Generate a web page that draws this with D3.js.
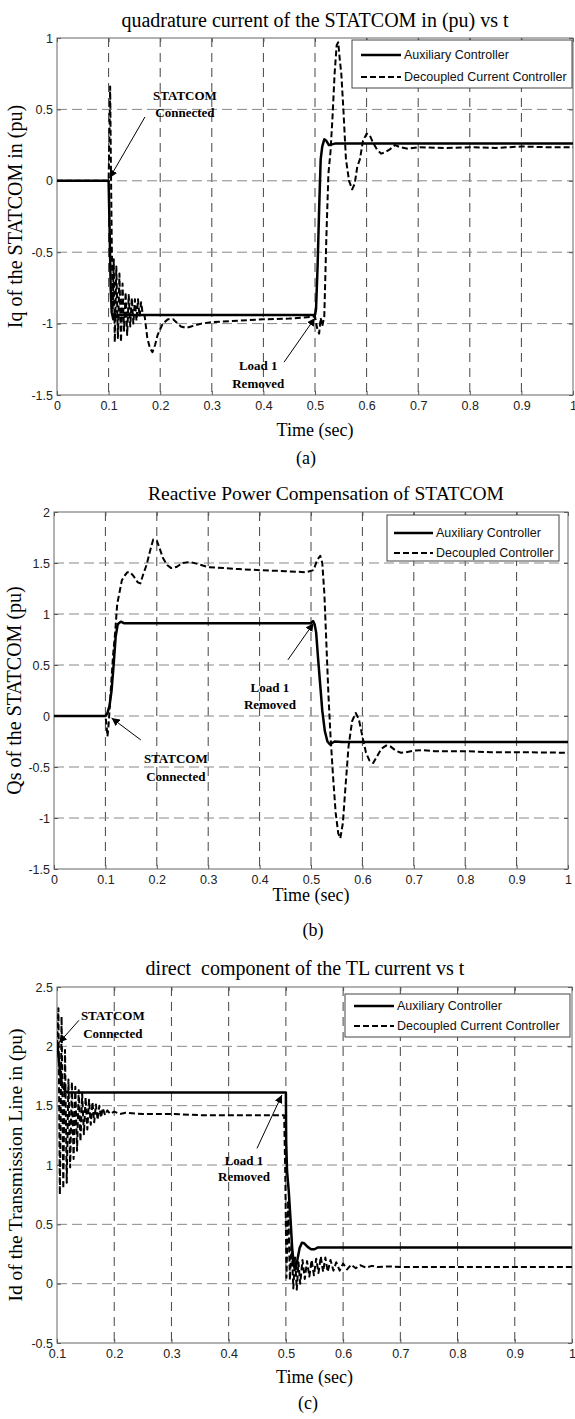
<!DOCTYPE html>
<html>
<head>
<meta charset="utf-8">
<script src="https://cdn.jsdelivr.net/npm/d3@7"></script>
<style>
  body { margin: 0; background: #fff; }
  svg { display: block; }
  .tick text { font-family: "Liberation Sans", Arial, sans-serif; font-size: 12.5px; fill: #222; }
</style>
</head>
<body>
<svg id="fig" width="575" height="1419"></svg>
<script>
// ---- tick values ----
const xTicks01 = [0, 0.1, 0.2, 0.3, 0.4, 0.5, 0.6, 0.7, 0.8, 0.9, 1];
const xTicksC = [0.1, 0.2, 0.3, 0.4, 0.5, 0.6, 0.7, 0.8, 0.9, 1];
const yTicksA = [-1.5, -1, -0.5, 0, 0.5, 1];
const yTicksB = [-1.5, -1, -0.5, 0, 0.5, 1, 1.5, 2];
const yTicksC = [-0.5, 0, 0.5, 1, 1.5, 2, 2.5];

// ---- (a) Iq of the STATCOM, [t, pu] ----
const iqAux = [[0,0],[0.1,0],[0.102,-0.35],[0.104,-0.75],[0.106,-0.92],[0.109,-0.97],[0.112,-0.93],[0.116,-0.955],[0.12,-0.94],
  [0.5,-0.94],[0.502,-0.9],[0.505,-0.6],[0.508,-0.2],[0.511,0.15],[0.514,0.24],[0.518,0.29],[0.522,0.28],[0.527,0.25],
  [0.533,0.255],[0.54,0.262],[1,0.262]];
const iqDec = [[0,0],[0.1,0],[0.1015,0.3],[0.103,0.66],[0.1045,0.1],[0.106,-0.4],[0.108,-0.9],[0.11,-0.55],[0.112,-1.13],
  [0.115,-0.6],[0.118,-1.1],[0.121,-0.65],[0.124,-1.13],[0.127,-0.72],[0.13,-1.05],[0.133,-0.78],[0.136,-1.08],[0.139,-0.8],
  [0.142,-1.02],[0.145,-0.82],[0.148,-1.0],[0.151,-0.83],[0.154,-0.98],[0.157,-0.83],[0.16,-0.95],[0.163,-0.85],[0.166,-0.93],
  [0.17,-0.95],[0.175,-1.1],[0.18,-1.17],[0.185,-1.2],[0.19,-1.15],[0.195,-1.08],[0.205,-1.0],[0.215,-0.97],[0.225,-0.97],
  [0.24,-1.02],[0.25,-1.03],[0.26,-1.02],[0.28,-1.0],[0.3,-0.99],[0.35,-0.98],[0.4,-0.97],[0.45,-0.965],[0.5,-0.95],
  [0.504,-1.03],[0.508,-1.07],[0.511,-0.96],[0.514,-1.02],[0.518,-0.95],[0.522,-0.4],[0.526,0.05],[0.53,0.2],[0.534,0.45],
  [0.538,0.75],[0.542,0.95],[0.545,0.97],[0.548,0.85],[0.551,0.75],[0.555,0.5],[0.56,0.15],[0.566,0.0],[0.572,-0.06],
  [0.577,-0.02],[0.582,0.1],[0.587,0.15],[0.593,0.28],[0.6,0.33],[0.606,0.32],[0.612,0.27],[0.62,0.22],[0.628,0.19],
  [0.636,0.2],[0.645,0.22],[0.655,0.25],[0.665,0.235],[0.68,0.225],[0.7,0.235],[0.75,0.23],[0.8,0.235],[0.85,0.23],
  [0.9,0.24],[0.95,0.235],[1,0.235]];

// ---- (b) Qs of the STATCOM ----
const qsAux = [[0,0],[0.1,0],[0.104,0.03],[0.108,0.1],[0.112,0.25],[0.116,0.5],[0.12,0.78],[0.124,0.9],[0.13,0.925],[0.136,0.91],
  [0.5,0.91],[0.504,0.93],[0.507,0.9],[0.51,0.82],[0.514,0.55],[0.518,0.3],[0.522,0.05],[0.527,-0.15],[0.532,-0.25],
  [0.537,-0.28],[0.541,-0.265],[0.546,-0.25],[0.56,-0.255],[1,-0.255]];
const qsDec = [[0,0],[0.1,0],[0.102,-0.08],[0.104,-0.2],[0.106,-0.1],[0.108,0.05],[0.111,0.3],[0.115,0.6],[0.119,0.82],
  [0.123,1.1],[0.127,1.2],[0.132,1.33],[0.138,1.38],[0.143,1.41],[0.148,1.41],[0.155,1.37],[0.163,1.31],[0.168,1.3],
  [0.173,1.38],[0.18,1.48],[0.187,1.62],[0.193,1.73],[0.2,1.72],[0.205,1.65],[0.212,1.55],[0.22,1.48],[0.228,1.45],
  [0.238,1.46],[0.25,1.5],[0.265,1.51],[0.28,1.49],[0.3,1.46],[0.33,1.45],[0.36,1.44],[0.4,1.43],[0.45,1.42],[0.49,1.41],
  [0.505,1.43],[0.512,1.53],[0.518,1.57],[0.522,1.5],[0.526,1.2],[0.53,0.7],[0.534,0.2],[0.538,-0.2],[0.543,-0.6],
  [0.548,-0.95],[0.553,-1.15],[0.557,-1.2],[0.562,-1.05],[0.567,-0.7],[0.573,-0.3],[0.58,-0.05],[0.587,0.03],[0.593,-0.03],
  [0.6,-0.2],[0.607,-0.36],[0.614,-0.44],[0.621,-0.46],[0.628,-0.4],[0.637,-0.32],[0.646,-0.29],[0.655,-0.3],[0.665,-0.34],
  [0.675,-0.36],[0.685,-0.355],[0.7,-0.34],[0.715,-0.335],[0.74,-0.345],[0.8,-0.345],[0.85,-0.355],[0.9,-0.355],[1,-0.36]];

// ---- (c) Id of the transmission line ----
const idAux = [[0.1,2.05],[0.103,1.9],[0.106,1.75],[0.11,1.66],[0.115,1.62],[0.12,1.61],[0.5,1.61],[0.5005,1.2],[0.502,0.95],
  [0.505,0.78],[0.508,0.55],[0.511,0.3],[0.514,0.15],[0.517,0.12],[0.52,0.2],[0.524,0.3],[0.528,0.345],[0.532,0.34],
  [0.538,0.31],[0.544,0.29],[0.55,0.29],[0.556,0.305],[1,0.305]];
const idDec = [[0.1,2.0],[0.1025,2.32],[0.105,0.75],[0.108,2.25],[0.111,0.8],[0.114,1.97],[0.117,0.85],[0.12,1.72],[0.123,0.98],
  [0.126,1.7],[0.129,1.05],[0.132,1.66],[0.135,1.12],[0.138,1.63],[0.141,1.2],[0.144,1.6],[0.147,1.26],[0.15,1.57],
  [0.153,1.3],[0.156,1.55],[0.159,1.34],[0.162,1.53],[0.165,1.36],[0.168,1.51],[0.171,1.38],[0.174,1.5],[0.177,1.4],
  [0.18,1.48],[0.184,1.42],[0.188,1.46],[0.193,1.43],[0.2,1.45],[0.21,1.43],[0.22,1.44],[0.25,1.43],[0.3,1.43],[0.35,1.42],
  [0.4,1.42],[0.45,1.42],[0.497,1.42],[0.499,0.9],[0.501,0.05],[0.504,0.7],[0.507,0.03],[0.51,0.35],[0.513,-0.04],
  [0.516,0.22],[0.519,-0.05],[0.522,0.18],[0.525,0.0],[0.529,0.2],[0.533,0.04],[0.537,0.19],[0.541,0.06],[0.545,0.2],
  [0.549,0.07],[0.553,0.21],[0.557,0.09],[0.561,0.23],[0.565,0.1],[0.569,0.22],[0.573,0.1],[0.578,0.2],[0.583,0.11],
  [0.588,0.18],[0.594,0.11],[0.6,0.17],[0.607,0.12],[0.614,0.16],[0.622,0.13],[0.63,0.155],[0.64,0.135],[0.65,0.15],
  [0.66,0.14],[0.68,0.145],[0.7,0.14],[0.8,0.14],[0.9,0.14],[1,0.14]];

// annotation texts and their anchors in data units: [t, v]
const notesA = [
  { lines: ["STATCOM", "Connected"], at: [0.248, 0.566], gap: 0.119, from: [0.1705, 0.447], to: [0.102, 0.02] },
  { lines: ["Load 1", "Removed"], at: [0.39, -1.325], gap: 0.125, from: [0.44, -1.27], to: [0.5, -0.96] }
];
const notesB = [
  { lines: ["Load 1", "Removed"], at: [0.42, 0.235], gap: 0.166, from: [0.455, 0.55], to: [0.505, 0.91] },
  { lines: ["STATCOM", "Connected"], at: [0.237, -0.46], gap: 0.177, from: [0.169, -0.235], to: [0.112, -0.02] }
];
const notesC = [
  { lines: ["STATCOM", "Connected"], at: [0.1975, 2.22], gap: 0.152, from: [0.1385, 2.22], to: [0.1035, 2.03] },
  { lines: ["Load 1", "Removed"], at: [0.4268, 1.0], gap: 0.135, from: [0.4495, 1.14], to: [0.493, 1.59] }
];

const panels = [
  { key: "a", left: 57, right: 573, top: 38, bottom: 395, xDomain: [0, 1], yDomain: [-1.5, 1],
    xTicks: xTicks01, yTicks: yTicksA, aux: iqAux, dec: iqDec, notes: notesA,
    title: "quadrature current of the STATCOM in (pu) vs t", titleX: 315, titleY: 27, titleSize: 20,
    ylabel: "Iq of the STATCOM in (pu)", ylabelX: 22, ylabelSize: 20,
    xlabelY: 436, capY: 464, capX: 306,
    legend: { x: 352, y: 40, w: 220, h: 48, lx: 361, lw: 40, rows: [55, 77] },
    labels: ["Auxiliary Controller", "Decoupled Current Controller"] },
  { key: "b", left: 54, right: 568, top: 512, bottom: 869, xDomain: [0, 1], yDomain: [-1.5, 2],
    xTicks: xTicks01, yTicks: yTicksB, aux: qsAux, dec: qsDec, notes: notesB,
    title: "Reactive Power Compensation of STATCOM", titleX: 326, titleY: 500, titleSize: 19.5,
    ylabel: "Qs of the STATCOM (pu)", ylabelX: 21, ylabelSize: 20,
    xlabelY: 901, capY: 936, capX: 313,
    legend: { x: 387, y: 515, w: 172, h: 46, lx: 394, lw: 39, rows: [533, 553] },
    labels: ["Auxiliary Controller", "Decoupled Controller"] },
  { key: "c", left: 57, right: 572, top: 987, bottom: 1343, xDomain: [0.1, 1], yDomain: [-0.5, 2.5],
    xTicks: xTicksC, yTicks: yTicksC, aux: idAux, dec: idDec, notes: notesC,
    title: "direct  component of the TL current vs t", titleX: 305, titleY: 975, titleSize: 20,
    ylabel: "Id of the Transmission Line in (pu)", ylabelX: 22, ylabelSize: 19.5,
    xlabelY: 1383, capY: 1409, capX: 308,
    legend: { x: 345, y: 994, w: 225, h: 43, lx: 354, lw: 40, rows: [1006, 1026] },
    labels: ["Auxiliary Controller", "Decoupled Current Controller"] }
];

const svg = d3.select("#fig");
const serif = '"Liberation Serif", "Times New Roman", serif';
const sans = '"Liberation Sans", Arial, sans-serif';

svg.append("defs").append("marker")
  .attr("id", "arrow")
  .attr("viewBox", "0 0 10 10")
  .attr("refX", 10).attr("refY", 5)
  .attr("markerWidth", 8).attr("markerHeight", 8)
  .attr("markerUnits", "userSpaceOnUse")
  .attr("orient", "auto")
  .append("path").attr("d", "M0,0 L10,5 L0,10 z").attr("fill", "#000");

const fmt = d => String(+d.toFixed(1));

panels.forEach(p => {
  const x = d3.scaleLinear().domain(p.xDomain).range([p.left, p.right]);
  const y = d3.scaleLinear().domain(p.yDomain).range([p.bottom, p.top]);
  const g = svg.append("g").attr("class", "panel-" + p.key);

  g.append("clipPath").attr("id", "clip-" + p.key)
    .append("rect").attr("x", p.left).attr("y", p.top - 2)
    .attr("width", p.right - p.left).attr("height", p.bottom - p.top + 4);

  // grid
  g.selectAll(".vgrid").data(p.xTicks.slice(1, -1)).enter().append("line")
    .attr("x1", d => x(d)).attr("x2", d => x(d)).attr("y1", p.top).attr("y2", p.bottom)
    .attr("stroke", "#444").attr("stroke-width", 1).attr("stroke-dasharray", "9,6");
  g.selectAll(".hgrid").data(p.yTicks.slice(1, -1)).enter().append("line")
    .attr("x1", p.left).attr("x2", p.right).attr("y1", d => y(d)).attr("y2", d => y(d))
    .attr("stroke", "#888").attr("stroke-width", 1).attr("stroke-dasharray", "10,5");

  // axes with inward ticks
  const bottom = g.append("g").attr("transform", `translate(0,${p.bottom})`)
    .call(d3.axisBottom(x).tickValues(p.xTicks).tickSize(-4).tickPadding(8).tickFormat(fmt));
  const left = g.append("g").attr("transform", `translate(${p.left},0)`)
    .call(d3.axisLeft(y).tickValues(p.yTicks).tickSize(-4).tickPadding(8).tickFormat(fmt));
  const top = g.append("g").attr("transform", `translate(0,${p.top})`)
    .call(d3.axisTop(x).tickValues(p.xTicks).tickSize(-4).tickFormat(""));
  const right = g.append("g").attr("transform", `translate(${p.right},0)`)
    .call(d3.axisRight(y).tickValues(p.yTicks).tickSize(-4).tickFormat(""));
  [bottom, left, top, right].forEach(a => {
    a.select(".domain").remove();
    a.selectAll(".tick line").attr("stroke", "#555");
  });
  left.selectAll(".tick text").attr("x", -4);
  bottom.selectAll(".tick text").attr("y", 6);

  g.append("rect").attr("x", p.left).attr("y", p.top)
    .attr("width", p.right - p.left).attr("height", p.bottom - p.top)
    .attr("fill", "none").attr("stroke", "#666").attr("stroke-width", 1);

  // curves
  const line = d3.line().x(d => x(d[0])).y(d => y(d[1]));
  const curves = g.append("g").attr("clip-path", `url(#clip-${p.key})`);
  curves.append("path").datum(p.dec).attr("d", line)
    .attr("fill", "none").attr("stroke", "#000").attr("stroke-width", 2)
    .attr("stroke-dasharray", "6,3").attr("stroke-linejoin", "round");
  curves.append("path").datum(p.aux).attr("d", line)
    .attr("fill", "none").attr("stroke", "#000").attr("stroke-width", 2.5)
    .attr("stroke-linejoin", "round");

  // annotations
  p.notes.forEach(n => {
    n.lines.forEach((t, i) => {
      g.append("text").attr("x", x(n.at[0])).attr("y", y(n.at[1] - i * n.gap))
        .attr("text-anchor", "middle").attr("font-family", serif)
        .attr("font-weight", "bold").attr("font-size", 13).text(t);
    });
    g.append("line")
      .attr("x1", x(n.from[0])).attr("y1", y(n.from[1]))
      .attr("x2", x(n.to[0])).attr("y2", y(n.to[1]))
      .attr("stroke", "#000").attr("stroke-width", 1)
      .attr("marker-end", "url(#arrow)");
  });

  // legend
  const L = p.legend;
  g.append("rect").attr("x", L.x).attr("y", L.y).attr("width", L.w).attr("height", L.h)
    .attr("fill", "#fff").attr("stroke", "#444").attr("stroke-width", 1);
  p.labels.forEach((lab, i) => {
    g.append("line").attr("x1", L.lx).attr("x2", L.lx + L.lw)
      .attr("y1", L.rows[i]).attr("y2", L.rows[i])
      .attr("stroke", "#000").attr("stroke-width", i === 0 ? 2.5 : 2)
      .attr("stroke-dasharray", i === 0 ? null : "6,3");
    g.append("text").attr("x", L.lx + L.lw + 3).attr("y", L.rows[i]).attr("dy", "0.35em")
      .attr("font-family", sans).attr("font-size", 12.5).attr("fill", "#111").text(lab);
  });

  // titles and labels
  g.append("text").attr("x", p.titleX).attr("y", p.titleY).attr("text-anchor", "middle")
    .attr("font-family", serif).attr("font-size", p.titleSize)
    .style("white-space", "pre").text(p.title);
  g.append("text").attr("x", (p.left + p.right) / 2).attr("y", p.xlabelY)
    .attr("text-anchor", "middle").attr("font-family", serif).attr("font-size", 18)
    .text("Time (sec)");
  g.append("text").attr("x", p.capX).attr("y", p.capY).attr("text-anchor", "middle")
    .attr("font-family", serif).attr("font-size", 18).text(`(${p.key})`);
  g.append("text")
    .attr("transform", `translate(${p.ylabelX},${(p.top + p.bottom) / 2}) rotate(-90)`)
    .attr("text-anchor", "middle").attr("font-family", serif).attr("font-size", p.ylabelSize)
    .text(p.ylabel);
});
</script>
</body>
</html>
